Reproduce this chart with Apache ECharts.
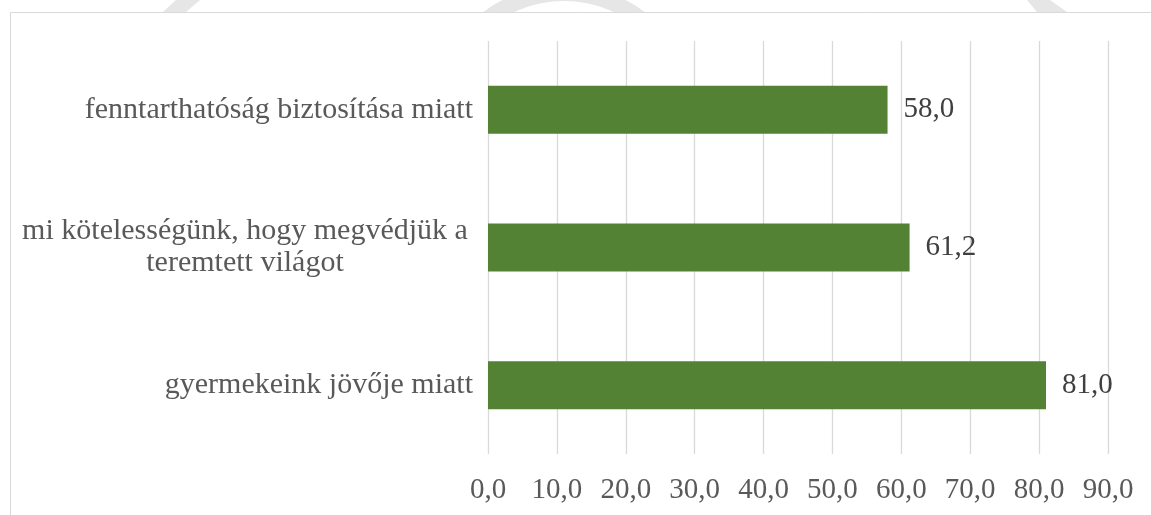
<!DOCTYPE html>
<html>
<head>
<meta charset="utf-8">
<script src="https://cdn.jsdelivr.net/npm/echarts@6/dist/echarts.min.js"></script>
<style>
  html, body { margin: 0; padding: 0; background: #fff; }
  #main { width: 1151px; height: 515px; }
</style>
</head>
<body>
<div id="main"></div>
<script>
// adatok (alulról felfelé, ahogy az ECharts kategóriatengelye rajzol)
var categories = [
  'gyermekeink jövője miatt',
  'mi kötelességünk, hogy megvédjük a\nteremtett világot',
  'fenntarthatóság biztosítása miatt'
];
var values = [81.0, 61.2, 58.0];
var xTicks = [0, 10, 20, 30, 40, 50, 60, 70, 80, 90];

function hu(v) {
  return v.toFixed(1).replace('.', ',');
}

var myChart = echarts.init(document.getElementById('main'));
var option = {
  backgroundColor: '#fff',
  animation: false,
  textStyle: { fontFamily: 'Liberation Serif' },
  graphic: [
    // halvány vízjel maradéka a keret fölött, a keret fehér kitöltése takarja a többit
    { type: 'ring', z: -20, shape: { cx: 564, cy: 119, r: 134, r0: 118 }, style: { fill: '#e6e6e6' } },
    { type: 'polygon', z: -20, shape: { points: [[176, 0], [200, 0], [186, 12], [163, 12]] }, style: { fill: '#e6e6e6' } },
    { type: 'polygon', z: -20, shape: { points: [[1027, 0], [1050, 0], [1067, 12], [1037, 12]] }, style: { fill: '#e6e6e6' } },
    // diagram kerete
    { type: 'rect', z: -20, shape: { x: 10.5, y: 12.5, width: 1300, height: 700 },
      style: { fill: '#fff', stroke: '#d9d9d9', lineWidth: 1 } }
  ],
  grid: { left: 488, right: 43, top: 41, bottom: 61 },
  xAxis: {
    type: 'value',
    min: xTicks[0],
    max: xTicks[xTicks.length - 1],
    interval: 10,
    axisLine: { show: false },
    axisTick: { show: false },
    axisLabel: {
      color: '#595959',
      fontSize: 29,
      fontFamily: 'Liberation Serif',
      margin: 22,
      formatter: function (v) { return hu(v); }
    },
    splitLine: { lineStyle: { color: '#d9d9d9', width: 1.3 } }
  },
  yAxis: {
    type: 'category',
    data: categories,
    axisLine: { show: false },
    axisTick: { show: false },
    axisLabel: {
      color: '#595959',
      fontSize: 30,
      fontFamily: 'Liberation Serif',
      margin: 15,
      lineHeight: 32,
      formatter: function (v) {
        if (v.indexOf('\n') < 0) return v;
        return v.split('\n').map(function (s) { return '{c|' + s + '}'; }).join('\n');
      },
      rich: {
        c: { width: 456, align: 'center', fontSize: 30, lineHeight: 32,
             color: '#595959', fontFamily: 'Liberation Serif' }
      }
    }
  },
  series: [
    {
      type: 'bar',
      data: values,
      barWidth: 48,
      itemStyle: { color: '#548235' },
      label: {
        show: true,
        position: 'right',
        distance: 16,
        color: '#404040',
        fontSize: 29,
        fontFamily: 'Liberation Serif',
        formatter: function (p) { return hu(p.value); }
      }
    }
  ]
};
myChart.setOption(option);
</script>
</body>
</html>
